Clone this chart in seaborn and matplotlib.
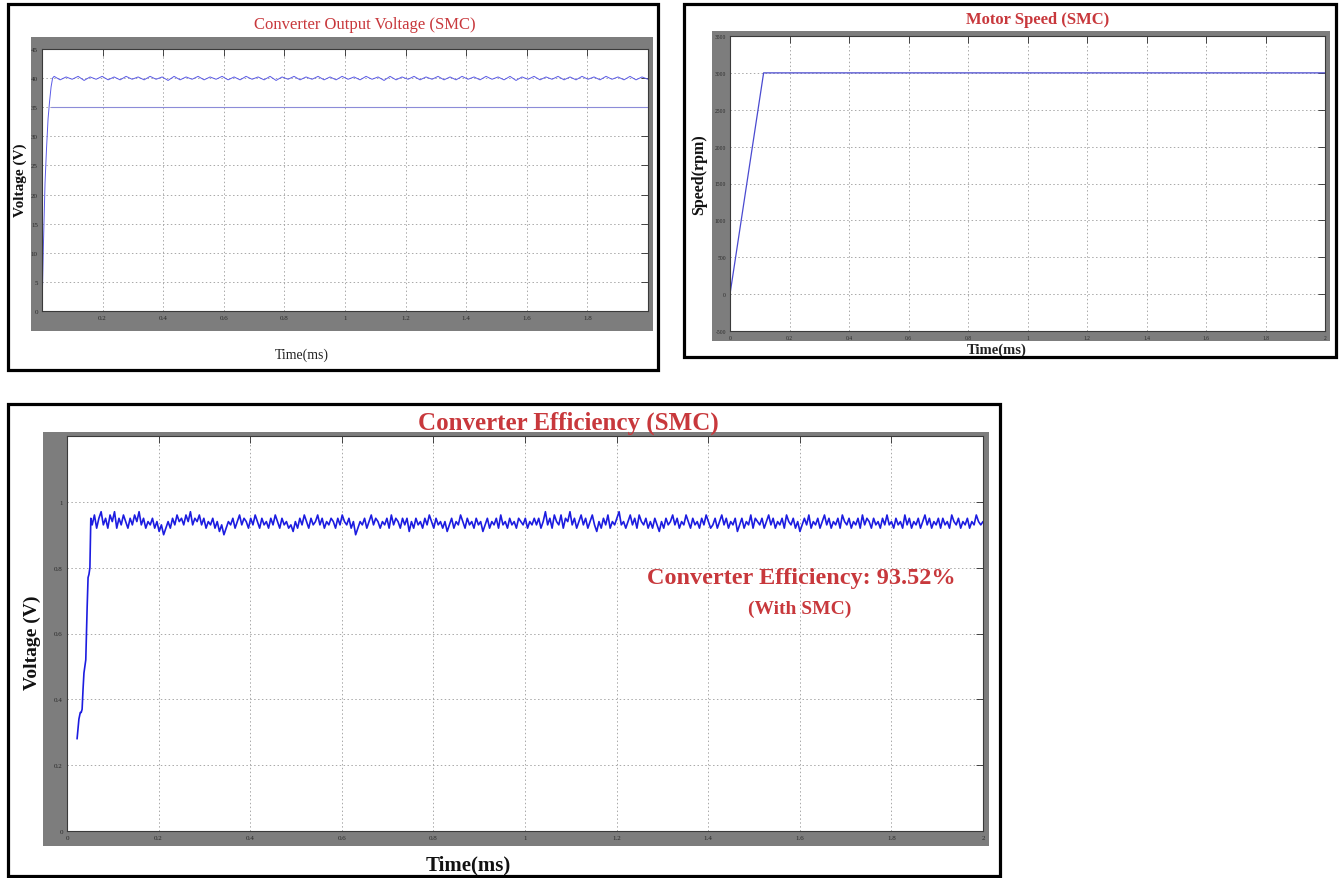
import numpy as np
import pandas as pd
import matplotlib
matplotlib.use("Agg")
import matplotlib.pyplot as plt
import seaborn as sns
from matplotlib.patches import Rectangle

# ---------------- data ----------------
# Converter output voltage (SMC)
v_start_t = [0.0, 0.005, 0.010, 0.015, 0.020, 0.025, 0.030, 0.035]
v_start_v = [0.0, 12.0, 22.0, 28.0, 33.0, 36.0, 38.5, 40.0]
v_ripple = [40.3, 39.7, 40.2, 39.8, 40.3, 39.6, 40.2, 39.8, 40.3, 39.7,
            40.2, 39.7, 40.3, 39.8, 40.2, 39.7, 40.3, 39.8, 40.2, 39.6,
            40.3, 39.7, 40.2, 39.8, 40.3, 39.7, 40.2, 39.8, 40.3, 39.7,
            40.2, 39.7, 40.3, 39.8, 40.2, 39.7, 40.3, 39.6, 40.2, 39.8,
            40.3, 39.7, 40.2, 39.8, 40.3, 39.7, 40.2, 39.7, 40.3, 39.8,
            40.2, 39.7, 40.3, 39.8, 40.2, 39.6, 40.3, 39.7, 40.2, 39.8,
            40.3, 39.7, 40.2, 39.8, 40.3, 39.7, 40.2, 39.7, 40.3, 39.8,
            40.2, 39.7, 40.3, 39.8, 40.2, 39.7, 40.3, 39.6, 40.2, 39.8,
            40.3, 39.7, 40.2, 39.8, 40.3, 39.7, 40.2, 39.7, 40.3, 39.8,
            40.2, 39.7, 40.3, 39.8, 40.2, 39.7, 40.3, 39.7, 40.2, 39.8]
v_ref_t = [0.03, 2.0]
v_ref_v = [35.0, 35.0]
v_yticks = [0, 5, 10, 15, 20, 25, 30, 35, 40, 45]
v_xticks = [0.2, 0.4, 0.6, 0.8, 1.0, 1.2, 1.4, 1.6, 1.8]

# Motor speed (SMC)
spd_t = [0.0, 0.113, 2.0]
spd_v = [0.0, 3000.0, 3000.0]
spd_yticks = [-500, 0, 500, 1000, 1500, 2000, 2500, 3000, 3500]
spd_xticks = [0, 0.2, 0.4, 0.6, 0.8, 1.0, 1.2, 1.4, 1.6, 1.8, 2.0]

# Converter efficiency (SMC)
eff_start_t = [0.022, 0.026, 0.029, 0.031, 0.033, 0.035, 0.037, 0.039, 0.041,
               0.044, 0.046, 0.048, 0.050, 0.052]
eff_start_v = [0.28, 0.34, 0.36, 0.36, 0.37, 0.43, 0.48, 0.50, 0.52,
               0.68, 0.77, 0.78, 0.80, 0.95]
eff_steady = [
    0.93, 0.96, 0.92, 0.95, 0.97, 0.93, 0.95, 0.92, 0.96, 0.94, 0.97, 0.92, 0.95, 0.93, 0.96, 0.94, 0.92, 0.95, 0.93, 0.96,
    0.94, 0.97, 0.93, 0.95, 0.92, 0.94, 0.93, 0.95, 0.92, 0.94, 0.91, 0.93, 0.90, 0.92, 0.94, 0.92, 0.95, 0.93, 0.96, 0.94,
    0.95, 0.93, 0.96, 0.94, 0.97, 0.93, 0.95, 0.94, 0.96, 0.93, 0.95, 0.92, 0.94, 0.93, 0.95, 0.92, 0.94, 0.91, 0.93, 0.90,
    0.92, 0.94, 0.93, 0.95, 0.92, 0.94, 0.96, 0.93, 0.95, 0.94, 0.92, 0.95, 0.93, 0.96, 0.94, 0.92, 0.95, 0.93, 0.94, 0.92,
    0.95, 0.93, 0.96, 0.94, 0.92, 0.95, 0.93, 0.94, 0.92, 0.93, 0.91, 0.94, 0.92, 0.95, 0.93, 0.96, 0.94, 0.92, 0.95, 0.93,
    0.94, 0.96, 0.93, 0.95, 0.92, 0.94, 0.93, 0.95, 0.94, 0.92, 0.95, 0.93, 0.96, 0.94, 0.93, 0.95, 0.92, 0.94, 0.90, 0.92,
    0.94, 0.93, 0.95, 0.92, 0.94, 0.96, 0.93, 0.95, 0.94, 0.92, 0.94, 0.93, 0.95, 0.92, 0.96, 0.93, 0.95, 0.94, 0.92, 0.95,
    0.93, 0.95, 0.91, 0.94, 0.92, 0.95, 0.93, 0.94, 0.92, 0.95, 0.93, 0.96, 0.94, 0.92, 0.95, 0.93, 0.94, 0.92, 0.94, 0.91,
    0.93, 0.95, 0.92, 0.94, 0.93, 0.96, 0.94, 0.92, 0.95, 0.93, 0.94, 0.92, 0.95, 0.93, 0.94, 0.91, 0.93, 0.95, 0.92, 0.94,
    0.93, 0.95, 0.92, 0.96, 0.93, 0.94, 0.92, 0.95, 0.93, 0.94, 0.92, 0.95, 0.94, 0.93, 0.95, 0.92, 0.94, 0.93, 0.95, 0.93,
    0.95, 0.92, 0.94, 0.97, 0.93, 0.95, 0.92, 0.96, 0.94, 0.93, 0.96, 0.92, 0.95, 0.94, 0.97, 0.93, 0.95, 0.92, 0.94, 0.96,
    0.93, 0.95, 0.92, 0.94, 0.96, 0.93, 0.91, 0.94, 0.92, 0.95, 0.93, 0.96, 0.92, 0.94, 0.93, 0.95, 0.97, 0.93, 0.94, 0.92,
    0.94, 0.96, 0.93, 0.95, 0.92, 0.96, 0.94, 0.93, 0.95, 0.92, 0.94, 0.92, 0.95, 0.93, 0.91, 0.94, 0.92, 0.95, 0.93, 0.94,
    0.96, 0.93, 0.95, 0.92, 0.94, 0.93, 0.96, 0.94, 0.92, 0.95, 0.93, 0.94, 0.92, 0.95, 0.93, 0.96, 0.94, 0.92, 0.93, 0.95,
    0.92, 0.94, 0.96, 0.93, 0.95, 0.92, 0.94, 0.93, 0.95, 0.91, 0.93, 0.95, 0.92, 0.94, 0.93, 0.96, 0.92, 0.95, 0.94, 0.93,
    0.95, 0.92, 0.94, 0.96, 0.93, 0.95, 0.92, 0.94, 0.93, 0.95, 0.92, 0.96, 0.94, 0.93, 0.95, 0.92, 0.94, 0.91, 0.93, 0.95,
    0.93, 0.96, 0.92, 0.94, 0.93, 0.95, 0.92, 0.94, 0.96, 0.93, 0.95, 0.92, 0.94, 0.93, 0.95, 0.92, 0.96, 0.94, 0.93, 0.95,
    0.92, 0.94, 0.93, 0.95, 0.92, 0.96, 0.93, 0.95, 0.94, 0.92, 0.95, 0.93, 0.94, 0.92, 0.95, 0.93, 0.96, 0.93, 0.94, 0.92,
    0.95, 0.93, 0.94, 0.92, 0.96, 0.93, 0.95, 0.92, 0.94, 0.93, 0.95, 0.92, 0.94, 0.96, 0.93, 0.95, 0.92, 0.94, 0.93, 0.95,
    0.92, 0.95, 0.93, 0.94, 0.92, 0.96, 0.94, 0.93, 0.95, 0.92, 0.94, 0.93, 0.95, 0.92, 0.94, 0.93, 0.96, 0.94, 0.93, 0.94]
eff_yticks = [0, 0.2, 0.4, 0.6, 0.8, 1.0]
eff_xticks = [0, 0.2, 0.4, 0.6, 0.8, 1.0, 1.2, 1.4, 1.6, 1.8, 2.0]

# ---------------- figure ----------------
W, H = 1341, 879
sns.set_theme(style="white")
plt.rcParams["font.family"] = ["Liberation Serif", "DejaVu Serif"]

fig = plt.figure(figsize=(W / 100, H / 100), dpi=100)
fig.patch.set_facecolor("white")

RED = "#c8383c"


def fx(x):
    return x / W


def fy(y):
    return 1 - y / H


def frame(x0, y0, x1, y1, **kw):
    r = Rectangle((fx(x0), fy(y1)), fx(x1) - fx(x0), fy(y0) - fy(y1),
                  transform=fig.transFigure, **kw)
    fig.add_artist(r)


def make_axes(bg, area):
    frame(*bg, facecolor="#7d7d7d", edgecolor="none", zorder=0)
    x0, y0, x1, y1 = area
    ax = fig.add_axes([fx(x0), fy(y1), fx(x1) - fx(x0), fy(y0) - fy(y1)])
    ax.set_facecolor("white")
    for s in ax.spines.values():
        s.set_color("#3a3a3a")
        s.set_linewidth(0.8)
    ax.tick_params(direction="in", length=5, width=0.6, colors="#2a2a2a",
                   labelsize=5, top=True, right=True, pad=3)
    ax.grid(True, linestyle=(0, (1.5, 2.5)), color="#a8a8a8", linewidth=0.7)
    return ax


def fmt(v):
    return ("%g" % v)


# --- Top-left: converter output voltage ---
frame(8, 5, 658, 371, facecolor="none", edgecolor="black", linewidth=2.3, zorder=5)
ax1 = make_axes((31, 38, 653, 332), (42, 50, 648, 312))
rip_t = np.linspace(0.04, 2.0, len(v_ripple))
df_v = pd.DataFrame({"t": list(v_start_t) + list(rip_t),
                     "v": list(v_start_v) + list(v_ripple)})
sns.lineplot(data=df_v, x="t", y="v", ax=ax1, color="#5a5ae6", linewidth=0.7,
             estimator=None, sort=False)
sns.lineplot(x=v_ref_t, y=v_ref_v, ax=ax1, color="#8c8cd8", linewidth=0.8,
             estimator=None)
ax1.set_xlim(0, 2)
ax1.set_ylim(0, 45)
ax1.set_xticks(v_xticks)
ax1.set_xticklabels([fmt(v) for v in v_xticks])
ax1.set_yticks(v_yticks)
ax1.set_yticklabels([fmt(v) for v in v_yticks])
ax1.set_xlabel("")
ax1.set_ylabel("")
fig.text(fx(365), fy(25), "Converter Output Voltage (SMC)", color=RED,
         fontsize=12, ha="center", va="center")
fig.text(fx(302), fy(355), "Time(ms)", color="#222222", fontsize=10,
         ha="center", va="center")
fig.text(fx(20), fy(180), "Voltage (V)", color="#111111", fontsize=11,
         fontweight="bold", rotation=90, ha="center", va="center")

# --- Top-right: motor speed ---
frame(684, 5, 1336, 358, facecolor="none", edgecolor="black", linewidth=2.3, zorder=5)
ax2 = make_axes((712, 32, 1330, 342), (730, 37, 1325, 332))
sns.lineplot(x=spd_t, y=spd_v, ax=ax2, color="#4a4ad0", linewidth=0.9,
             estimator=None)
ax2.set_xlim(0, 2)
ax2.set_ylim(-500, 3500)
ax2.set_xticks(spd_xticks)
ax2.set_xticklabels([fmt(v) for v in spd_xticks])
ax2.set_yticks(spd_yticks)
ax2.set_yticklabels([fmt(v) for v in spd_yticks])
ax2.tick_params(labelsize=4)
ax2.set_xlabel("")
ax2.set_ylabel("")
fig.text(fx(1038), fy(20), "Motor Speed (SMC)", color=RED, fontsize=12,
         fontweight="bold", ha="center", va="center")
fig.text(fx(997), fy(350), "Time(ms)", color="#222222", fontsize=10.5,
         fontweight="bold", ha="center", va="center")
fig.text(fx(699), fy(175), "Speed(rpm)", color="#111111", fontsize=11.5,
         fontweight="bold", rotation=90, ha="center", va="center")

# --- Bottom: converter efficiency ---
frame(8, 405, 1000, 877, facecolor="none", edgecolor="black", linewidth=2.3, zorder=5)
ax3 = make_axes((43, 433, 989, 847), (67, 437, 983, 832))
st_t = np.linspace(0.055, 2.0, len(eff_steady))
df_e = pd.DataFrame({"t": list(eff_start_t) + list(st_t),
                     "e": list(eff_start_v) + list(eff_steady)})
sns.lineplot(data=df_e, x="t", y="e", ax=ax3, color="#1c1ce0", linewidth=1.2,
             estimator=None, sort=False)
ax3.set_xlim(0, 2)
ax3.set_ylim(0, 1.2)
ax3.set_xticks(eff_xticks)
ax3.set_xticklabels([fmt(v) for v in eff_xticks])
ax3.set_yticks(eff_yticks)
ax3.set_yticklabels([fmt(v) for v in eff_yticks])
ax3.set_xlabel("")
ax3.set_ylabel("")
ax3.text(1.603, 0.77, "Converter Efficiency: 93.52%", color=RED, fontsize=17.5,
         fontweight="bold", ha="center", va="center")
ax3.text(1.60, 0.675, "(With SMC)", color=RED, fontsize=14,
         fontweight="bold", ha="center", va="center")
fig.text(fx(568), fy(423), "Converter Efficiency (SMC)", color=RED,
         fontsize=18, fontweight="bold", ha="center", va="center")
fig.text(fx(468), fy(865), "Time(ms)", color="#111111", fontsize=15,
         fontweight="bold", ha="center", va="center")
fig.text(fx(32), fy(643), "Voltage (V)", color="#111111", fontsize=14,
         fontweight="bold", rotation=90, ha="center", va="center")

fig.savefig("out.png", dpi=100, facecolor="white")
